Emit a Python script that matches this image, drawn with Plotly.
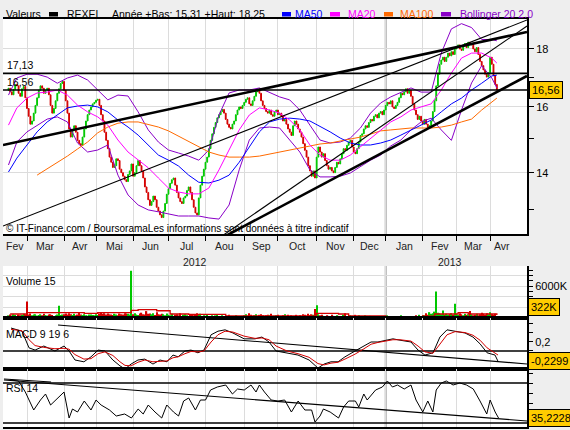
import math
import plotly.graph_objects as go

# ---------------- DATA ----------------
# x = trading-day index, 0 = 1 Mar 2012
START = -11
first_open = 16.55
close = [
    # Feb 2012
    16.62, 16.50, 16.40, 16.58, 16.75, 16.70, 16.45, 16.35, 16.60, 16.68, 16.30,
    # Mar
    15.95, 15.70, 15.45, 15.55, 15.80, 16.05, 16.30, 16.55, 16.70, 16.62, 16.45,
    16.55, 16.62, 16.40, 16.05, 15.80, 15.95, 16.20, 16.45, 16.60, 16.78, 16.85,
    # Apr
    16.55, 16.20, 15.80, 15.30, 15.05, 15.25, 15.40, 15.20, 14.95, 14.85, 14.80,
    15.05, 15.30, 15.55, 15.75, 15.90, 16.00, 16.10, 16.15,
    # May
    16.22, 16.25, 16.05, 15.75, 15.55, 15.20, 14.95, 14.70, 14.45, 14.30, 14.15,
    14.20, 14.40, 14.35, 14.10, 14.00, 13.90, 13.80, 13.75, 13.95, 14.05, 14.25,
    # Jun
    13.90, 14.00, 14.20, 14.35, 14.20, 14.05, 13.85, 13.60, 13.45, 13.25, 13.10,
    13.20, 13.35, 13.25, 13.05, 12.95, 12.85, 12.78, 12.95, 13.15, 13.40,
    # Jul
    13.55, 13.70, 13.80, 13.85, 13.65, 13.45, 13.30, 13.20, 13.15, 13.30, 13.35,
    13.50, 13.60, 13.45, 13.25, 13.05, 12.90, 12.85, 13.30, 13.65, 13.90, 14.10,
    # Aug
    14.30, 14.45, 14.70, 14.95, 15.15, 15.35, 15.50, 15.65, 15.75, 15.85, 15.92,
    15.80, 15.60, 15.45, 15.35, 15.30, 15.45, 15.55, 15.75, 15.90, 16.00, 15.95, 16.05,
    # Sep
    16.15, 16.25, 16.30, 16.10, 16.05, 16.20, 16.35, 16.50, 16.60, 16.45,
    16.20, 16.05, 15.95, 15.85, 15.80, 15.90, 15.75, 15.70, 15.85, 15.90,
    # Oct
    15.75, 15.80, 15.70, 15.55, 15.60, 15.45, 15.30, 15.20, 15.10, 15.40, 15.55,
    15.45, 15.30, 15.20, 15.05, 14.85, 14.65, 14.45, 14.20, 14.05, 13.90, 14.05, 13.85,
    # Nov
    14.45, 14.75, 14.60, 14.45, 14.55, 14.35, 14.20, 14.10, 14.15, 14.05, 14.00,
    14.15, 14.30, 14.25, 14.40, 14.55, 14.70, 14.65, 14.80, 14.90, 14.95, 14.75,
    # Dec
    14.60, 14.55, 14.70, 14.90, 15.10, 15.15, 15.30, 15.40, 15.35, 15.50,
    15.60, 15.55, 15.70, 15.75, 15.65, 15.80, 15.85, 15.75, 15.90,
    # Jan 2013
    16.05, 16.15, 16.10, 16.20, 16.00, 15.95, 16.05, 16.15, 16.30, 16.45, 16.40,
    16.50, 16.60, 16.45, 16.55, 16.35, 16.10, 15.90, 15.75, 15.60, 15.70, 15.55,
    # Feb
    15.45, 15.60, 15.45, 15.35, 15.40, 15.55, 15.85, 16.20, 16.70, 17.10,
    17.45, 17.60, 17.70, 17.55, 17.70, 17.85, 17.75, 17.90, 17.80, 18.00,
    # Mar
    18.05, 18.15, 18.00, 17.95, 18.10, 18.20, 18.05, 18.25, 18.15, 18.20,
    18.00, 17.90, 18.05, 17.80, 17.55, 17.40, 17.25, 17.10, 17.00, 17.15,
    # Apr
    17.70, 17.45, 17.05, 16.75, 16.56,
]

volume_k = [
    500, 650, 450, 700, 550, 350, 650, 500, 550, 800, 650,
    3100, 650, 850, 500, 650, 700, 450, 550, 700, 500, 800, 550, 450, 650, 700, 550, 350, 500, 650, 2300, 550, 650,
    700, 850, 650, 900, 700, 550, 800, 500, 650, 1000, 650, 550, 700, 500, 450, 650, 650, 550, 500,
    700, 550, 850, 1100, 800, 900, 650, 850, 700, 650, 550, 800, 650, 500, 850, 700, 650, 900, 850, 800, 650, 8900,
    700, 900, 650, 550, 850, 1000, 700, 650, 1300, 800, 850, 700, 900, 550, 1100, 700, 650, 800, 700, 500, 850,
    600, 500, 800, 400, 600, 700, 500, 900, 400, 600, 700, 500, 400, 600, 700, 500, 600, 900, 600, 800, 400, 500,
    400, 600, 400, 300, 500, 400, 500, 600, 300, 400, 500, 400, 300, 400, 600, 400, 300, 400, 500, 400, 300, 300, 400,
    500, 700, 400, 900, 600, 400, 500, 700, 400, 600, 700, 500, 400, 500, 600, 500, 800, 400, 400, 500,
    600, 400, 400, 500, 700, 400, 600, 400, 500, 400, 300, 600, 400, 500, 400, 700, 600, 400, 800, 500, 700, 600, 1700,
    2400, 700, 500, 600, 400, 400, 500, 400, 300, 600, 400, 400, 500, 400, 400, 300, 600, 900, 400, 400, 500, 400,
    400, 600, 300, 500, 300, 400, 300, 500, 300, 300, 400, 200, 300, 200, 300, 300, 200, 400, 300,
    300, 500, 300, 400, 300, 200, 400, 300, 300, 500, 300, 400, 300, 300, 200, 300, 400, 300, 500, 400, 600, 400,
    500, 500, 900, 600, 1100, 800, 900, 1200, 5000, 1000, 900, 700, 1400, 600, 800, 600, 700, 900, 600, 2700,
    800, 600, 900, 700, 500, 800, 600, 700, 1300, 700, 500, 600, 800, 500, 700, 1000, 800, 600, 900, 700,
    1100, 700, 600, 800, 322,
]

vol_ma_x = [-10, 0, 18, 34, 42, 61, 62, 66, 77, 85, 96, 118, 146, 171, 172, 185, 191, 213, 235, 242, 256, 262, 279]
vol_ma = [750, 1030, 1030, 890, 1030, 1030, 1440, 1580, 1370, 755, 690, 410, 410, 550, 890, 755, 410, 205, 340, 755, 1030, 755, 550]

ind_x = [-11, -6, 0, 6, 12, 18, 24, 30, 36, 42, 48, 54, 60, 66, 72, 78, 84, 90, 96, 102,
         108, 114, 120, 126, 132, 138, 144, 150, 156, 162, 168, 174, 180, 186, 192, 198,
         204, 210, 216, 222, 228, 234, 240, 246, 252, 258, 264, 270, 276, 279]
ma20 = [15.42, 15.97, 16.29, 16.46, 16.49, 16.56, 16.39, 16.06, 15.84, 15.68, 15.42, 14.96,
        14.60, 14.36, 14.14, 13.85, 13.57, 13.46, 13.41, 13.41, 13.57, 14.08, 14.66, 15.27,
        15.74, 15.97, 15.90, 15.80, 15.58, 15.27, 14.81, 14.51, 14.36, 14.36, 14.51, 14.75,
        15.02, 15.27, 15.52, 15.68, 15.90, 16.00, 16.10, 16.56, 17.14, 17.67, 17.85, 17.85,
        17.67, 17.49]
ma50 = [14.02, 14.42, 14.81, 15.21, 15.52, 15.74, 15.97, 16.03, 16.06, 16.00, 15.84, 15.58,
        15.36, 15.11, 14.81, 14.51, 14.36, 14.19, 13.93, 13.73, 13.71, 13.79, 13.93, 14.30,
        14.75, 15.21, 15.52, 15.61, 15.64, 15.61, 15.55, 15.39, 15.21, 15.02, 14.87, 14.81,
        14.81, 14.87, 14.96, 15.11, 15.27, 15.42, 15.58, 15.84, 16.10, 16.29, 16.56, 16.79,
        17.04, 17.07]
ma100 = [None, None, None, 13.93, 14.11, 14.28, 14.48, 14.69, 14.90, 15.18, 15.36, 15.48,
         15.52, 15.52, 15.45, 15.36, 15.24, 15.08, 14.90, 14.75, 14.60, 14.51, 14.45, 14.45,
         14.45, 14.48, 14.54, 14.60, 14.66, 14.72, 14.78, 14.84, 14.87, 14.93, 14.99, 15.05,
         15.14, 15.24, 15.27, 15.30, 15.33, 15.33, 15.33, 15.36, 15.42, 15.52, 15.61, 15.90,
         16.16, 16.29]
boll_up = [16.39, 16.97, 17.10, 17.10, 17.00, 16.79, 16.97, 17.07, 16.90, 16.56, 16.23, 16.39,
           16.36, 15.84, 15.27, 14.90, 14.66, 14.57, 14.48, 14.36, 14.66, 15.74, 16.46, 16.56,
           16.56, 16.63, 16.49, 16.33, 16.23, 15.90, 15.42, 14.96, 14.87, 14.90, 15.02, 15.33,
           15.80, 16.13, 16.33, 16.49, 16.63, 16.49, 16.49, 17.85, 18.75, 18.95, 18.80, 18.35,
           18.35, 18.30]
boll_dn = [14.22, 14.90, 15.21, 15.42, 15.61, 15.68, 15.52, 14.87, 14.60, 14.66, 14.81, 13.93,
           13.38, 13.11, 12.98, 12.93, 12.87, 12.82, 12.82, 12.82, 12.77, 12.74, 13.11, 14.08,
           14.96, 15.33, 15.36, 15.33, 14.96, 14.60, 14.08, 13.88, 13.88, 13.90, 13.99, 14.17,
           14.36, 14.51, 14.78, 14.96, 15.27, 15.52, 15.64, 15.27, 14.95, 15.90, 16.80, 17.40,
           16.97, 16.63]

macd_x = [-9.5, -3, 1.2, 4.8, 10, 16.6, 22, 25, 28.5, 33.8, 38, 42.2, 46.3, 51, 55.2, 58.2,
          61.8, 65.9, 70, 74.8, 79, 83.1, 86.7, 89.7, 93.8, 97.4, 101.5, 105.1, 109.3, 113.4,
          117.6, 122.3, 128.9, 135.4, 139.5, 143.7, 147.9, 154.4, 160.9, 167.5, 172.8, 176.4,
          180.5, 184.7, 188.8, 194.8, 200.1, 204.3, 208.4, 212.6, 217.3, 221.5, 228, 232.2,
          236.3, 241.1, 245.2, 249.4, 254.2, 260.1, 264.8, 269, 273.2, 277.9, 279.7]
macd = [0.51, 0.44, 0.07, 0.02, 0.11, 0.0, 0.11, 0.0, -0.2, -0.24, -0.13, 0.02, 0.0, -0.2,
        -0.33, -0.4, -0.29, -0.2, -0.18, -0.29, -0.2, -0.24, -0.09, -0.13, 0.0, 0.02, -0.04,
        0.02, 0.36, 0.44, 0.47, 0.4, 0.27, 0.27, 0.31, 0.2, 0.0, -0.04, -0.09, -0.2, -0.38,
        -0.29, -0.24, -0.24, -0.13, 0.0, 0.11, 0.2, 0.2, 0.24, 0.27, 0.24, 0.2, 0.02, -0.09,
        -0.04, 0.31, 0.47, 0.44, 0.4, 0.31, 0.16, -0.04, -0.09, -0.23]
macd_sig = [0.48, 0.45, 0.25, 0.12, 0.08, 0.05, 0.06, 0.04, -0.08, -0.18, -0.17, -0.06, -0.02,
            -0.1, -0.24, -0.32, -0.33, -0.25, -0.2, -0.24, -0.23, -0.22, -0.15, -0.13, -0.06,
            -0.01, -0.02, 0.0, 0.2, 0.36, 0.44, 0.42, 0.33, 0.28, 0.29, 0.25, 0.11, 0.0, -0.06,
            -0.14, -0.28, -0.31, -0.27, -0.25, -0.18, -0.07, 0.05, 0.15, 0.19, 0.22, 0.25, 0.25,
            0.22, 0.11, -0.02, -0.05, 0.15, 0.36, 0.43, 0.41, 0.35, 0.24, 0.07, -0.04, -0.09]

rsi_x = [-10, -5, -1, 4, 8, 11, 14, 18, 22, 25, 27, 30, 34, 38, 41, 44, 49, 53, 58, 62, 66,
         69, 72, 76, 80, 83, 87, 90, 93, 96, 100, 103, 106, 109, 113, 118, 122, 125, 129, 133,
         136, 138, 141, 145, 149, 153, 157, 161, 165, 169, 171, 174, 176, 180, 185, 188, 191,
         195, 197, 200, 202, 207, 211, 214, 217, 220, 224, 228, 231, 235, 238, 241, 243, 246,
         249, 253, 257, 261, 265, 269, 273, 275, 278, 280]
rsi = [73, 72, 61, 43, 53, 59, 48, 55, 61, 35, 44, 41, 52, 43, 53, 48, 43, 37, 39, 35, 44,
       39, 48, 41, 35, 48, 41, 37, 52, 55, 43, 53, 53, 63, 66, 68, 59, 64, 63, 68, 61, 68, 61,
       53, 52, 53, 41, 52, 43, 43, 31, 37, 44, 41, 35, 46, 52, 52, 46, 59, 53, 63, 66, 72, 66,
       68, 64, 68, 53, 41, 52, 41, 63, 70, 72, 68, 70, 68, 64, 52, 39, 53, 41, 35]

levels = [17.13, 16.56]
trend_thick = [[(-14.25, 14.81), (296.9, 18.63)], [(118.8, 12.33), (296.9, 17.04)]]
trend_thin = [[(-14.25, 12.56), (296.9, 19.09)], [(115.8, 12.31), (296.9, 18.86)]]
macd_trend = [(18.4, 0.578), (296.9, -0.289)]
rsi_trend = [[(-13.7, 73), (296.9, 32)], [(-13.7, 74), (14.3, 71)]]

month_starts = [0, 22, 41, 63, 84, 106, 129, 149, 172, 194, 213, 235, 255, 275]
month_names = ['Fev', 'Mar', 'Avr', 'Mai', 'Jun', 'Jul', 'Aou', 'Sep', 'Oct', 'Nov', 'Dec',
               'Jan', 'Fev', 'Mar', 'Avr']
month_label_pos = [-7, 11, 31.5, 52, 73.5, 95, 117.5, 139, 160.5, 183, 203.5, 224, 245, 265, 282]
years = ['2012', '2013']
year_pos = [100, 251]
year_break = 213
X_RANGE = [-14.25, 296.9]

last_close_txt = '16,56'
last_vol_txt = '322K'
last_macd_txt = '-0,2299'
last_rsi_txt = '35,2228'
last_macd = -0.2299
last_rsi = 35.2228

# ---------------- FIGURE ----------------
W, H = 570, 430
ML, MR, MT, MB = 3, 43, 19, 3
PW, PH = W - ML - MR, H - MT - MB


def pxx(px):
    return (px - ML) / PW


def pxy(py):
    return (H - MB - py) / PH


FONT = 'Liberation Sans, Arial, sans-serif'
GREEN = '#00C800'
RED = '#D40000'
BLUE = '#0000FF'
MAG = '#FF00FF'
ORANGE = '#FF6A00'
PURPLE = '#8A00C8'

xs = list(range(START, START + len(close)))
opens = [first_open] + close[:-1]
highs = [max(o, c) for o, c in zip(opens, close)]
lows = [min(o, c) for o, c in zip(opens, close)]
vol_colors = [GREEN if c >= o else RED for o, c in zip(opens, close)]

fig = go.Figure()

# main panel lines
for ys, col in [(boll_up, PURPLE), (boll_dn, PURPLE), (ma100, ORANGE), (ma50, BLUE), (ma20, MAG)]:
    fig.add_trace(go.Scatter(x=ind_x, y=ys, mode='lines', line=dict(color=col, width=1),
                             xaxis='x', yaxis='y', hoverinfo='skip'))

fig.add_trace(go.Candlestick(
    x=xs, open=opens, high=highs, low=lows, close=close,
    increasing=dict(line=dict(color=GREEN, width=1), fillcolor=GREEN),
    decreasing=dict(line=dict(color=RED, width=1), fillcolor=RED),
    whiskerwidth=0, xaxis='x', yaxis='y', hoverinfo='skip'))

for seg in trend_thick:
    fig.add_trace(go.Scatter(x=[seg[0][0], seg[1][0]], y=[seg[0][1], seg[1][1]], mode='lines',
                             line=dict(color='black', width=2.6), xaxis='x', yaxis='y'))
for seg in trend_thin:
    fig.add_trace(go.Scatter(x=[seg[0][0], seg[1][0]], y=[seg[0][1], seg[1][1]], mode='lines',
                             line=dict(color='black', width=1.1), xaxis='x', yaxis='y'))
for lv in levels:
    fig.add_trace(go.Scatter(x=X_RANGE, y=[lv, lv], mode='lines',
                             line=dict(color='black', width=1.6), xaxis='x', yaxis='y'))

# volume
fig.add_trace(go.Bar(x=xs, y=volume_k, marker=dict(color=vol_colors, line=dict(width=0)),
                     width=0.75, xaxis='x2', yaxis='y2', hoverinfo='skip'))
fig.add_trace(go.Scatter(x=vol_ma_x, y=vol_ma, mode='lines', line=dict(color=RED, width=1.3, shape='hv'),
                         xaxis='x2', yaxis='y2'))

# MACD
fig.add_trace(go.Scatter(x=X_RANGE, y=[0, 0], mode='lines', line=dict(color='black', width=1.3),
                         xaxis='x3', yaxis='y3'))
fig.add_trace(go.Scatter(x=[macd_trend[0][0], macd_trend[1][0]], y=[macd_trend[0][1], macd_trend[1][1]],
                         mode='lines', line=dict(color='black', width=1.1), xaxis='x3', yaxis='y3'))
fig.add_trace(go.Scatter(x=macd_x, y=macd, mode='lines', line=dict(color='black', width=1),
                         xaxis='x3', yaxis='y3'))
fig.add_trace(go.Scatter(x=macd_x, y=macd_sig, mode='lines', line=dict(color=RED, width=1),
                         xaxis='x3', yaxis='y3'))

# RSI
for lv in [70, 30]:
    fig.add_trace(go.Scatter(x=X_RANGE, y=[lv, lv], mode='lines', line=dict(color='black', width=1.4),
                             xaxis='x4', yaxis='y4'))
for seg in rsi_trend:
    fig.add_trace(go.Scatter(x=[seg[0][0], seg[1][0]], y=[seg[0][1], seg[1][1]], mode='lines',
                             line=dict(color='black', width=1.1), xaxis='x4', yaxis='y4'))
fig.add_trace(go.Scatter(x=rsi_x, y=rsi, mode='lines', line=dict(color='black', width=1),
                         xaxis='x4', yaxis='y4'))

GRID = '#DCDCDC'


def xax(anchor, mirror, ticks):
    return dict(domain=[0, 1], range=X_RANGE, anchor=anchor, tickmode='array', tickvals=month_starts,
                showticklabels=False, ticks=ticks, ticklen=5, tickcolor='black',
                showgrid=True, gridcolor=GRID, gridwidth=1, zeroline=False,
                showline=True, linecolor='black', linewidth=2, mirror=mirror, fixedrange=True)


main_lo, main_hi = 12.36, 19.13
fig.update_layout(
    width=W, height=H, autosize=False,
    margin=dict(l=ML, r=MR, t=MT, b=MB, pad=0),
    paper_bgcolor='#EEEEEE', plot_bgcolor='white',
    showlegend=False, hovermode=False,
    font=dict(family=FONT, size=11, color='black'),
    xaxis=dict(xax('y', True, 'outside'), rangeslider=dict(visible=False)),
    xaxis2=dict(xax('y2', False, ''), matches='x'),
    xaxis3=dict(xax('y3', True, ''), matches='x'),
    xaxis4=dict(xax('y4', True, ''), matches='x'),
    yaxis=dict(domain=[pxy(234), 1], type='log', range=[math.log10(main_lo), math.log10(main_hi)],
               side='right', anchor='x', tickmode='array', tickvals=[14, 16, 18], ticktext=['14', '16', '18'],
               ticks='outside', ticklen=5, tickcolor='black', tickfont=dict(size=11),
               minor=dict(tickvals=[13, 15, 17], ticks='outside', ticklen=5, tickcolor='black', showgrid=False),
               showgrid=True, gridcolor=GRID, zeroline=False,
               showline=True, linecolor='black', linewidth=2, fixedrange=True),
    yaxis2=dict(domain=[pxy(318), pxy(266)], range=[0, 9800], side='right', anchor='x2',
                tickmode='array', tickvals=[2000, 4000, 6000, 8000], ticktext=['', '', '6000K', ''],
                ticks='outside', ticklen=4, tickcolor='black', tickfont=dict(size=11),
                minor=dict(tickvals=[1000, 3000, 5000, 7000, 9000], ticks='outside', ticklen=4,
                           tickcolor='black', showgrid=False),
                showgrid=True, gridcolor=GRID, zeroline=False,
                showline=True, linecolor='black', linewidth=2, fixedrange=True),
    yaxis3=dict(domain=[pxy(369), pxy(318)], range=[-0.4, 0.733], side='right', anchor='x3',
                tickmode='array', tickvals=[-0.4, -0.2, 0, 0.2, 0.4, 0.6],
                ticktext=['', '', '', '0,2', '', ''],
                ticks='outside', ticklen=4, tickcolor='black', tickfont=dict(size=11),
                showgrid=False, zeroline=False,
                showline=True, linecolor='black', linewidth=2, fixedrange=True),
    yaxis4=dict(domain=[0, pxy(369)], range=[26, 84], side='right', anchor='x4',
                tickmode='array', tickvals=[30, 40, 50, 60, 70, 80], ticktext=['', '', '', '', '', ''],
                ticks='outside', ticklen=4, tickcolor='black',
                showgrid=False, zeroline=False,
                showline=True, linecolor='black', linewidth=2, fixedrange=True),
)

# darker year-break line in every panel
shapes = []
for xr, yr in [('x', 'y domain'), ('x2', 'y2 domain'), ('x3', 'y3 domain'), ('x4', 'y4 domain')]:
    shapes.append(dict(type='line', xref=xr, yref=yr, x0=year_break, x1=year_break, y0=0, y1=1,
                       line=dict(color='#A8A8A8', width=2), layer='below'))

# header legend swatches
for (a, b), col in [((49, 58), 'black'), ((282, 291), BLUE), ((330, 340), MAG),
                    ((384, 393), ORANGE), ((441, 451), PURPLE)]:
    shapes.append(dict(type='rect', xref='paper', yref='paper', x0=pxx(a), x1=pxx(b),
                       y0=pxy(16.5), y1=pxy(12), fillcolor=col, line=dict(width=0)))
fig.update_layout(shapes=shapes)

ann = []
HY = pxy(14)
for px, txt, col in [(4, 'Valeurs', 'black'), (65, 'REXEL', 'black'),
                     (110, 'Année +Bas: 15,31 +Haut: 18,25', 'black'),
                     (293, 'MA50', BLUE), (346, 'MA20', MAG), (398, 'MA100', ORANGE),
                     (458, 'Bollinger 20 2.0', PURPLE)]:
    ann.append(dict(xref='paper', yref='paper', x=pxx(px), y=HY, text=txt, showarrow=False,
                    xanchor='left', yanchor='middle', font=dict(size=10.5, color=col)))

for name, pos in zip(month_names, month_label_pos):
    ann.append(dict(xref='x', yref='paper', x=pos, y=pxy(245.5), text=name, showarrow=False,
                    xanchor='center', yanchor='middle', font=dict(size=10.5, color='#222222')))
for name, pos in zip(years, year_pos):
    ann.append(dict(xref='x', yref='paper', x=pos, y=pxy(262), text=name, showarrow=False,
                    xanchor='center', yanchor='middle', font=dict(size=10.5, color='#222222')))

for lv in levels:
    ann.append(dict(xref='paper', yref='y', x=pxx(5), y=math.log10(lv), text=f'{lv:.2f}'.replace('.', ','),
                    showarrow=False, xanchor='left', yanchor='bottom', yshift=0,
                    font=dict(size=10.5, color='black')))

ann.append(dict(xref='paper', yref='paper', x=pxx(4), y=pxy(228.5),
                text='© IT-Finance.com / BoursoramaLes informations sont données à titre indicatif',
                showarrow=False, xanchor='left', yanchor='middle', font=dict(size=10, color='black')))

for txt, py in [('Volume 15', 281), ('MACD 9 19 6', 334), ('RSI 14', 388)]:
    ann.append(dict(xref='paper', yref='paper', x=pxx(4), y=pxy(py), text=txt, showarrow=False,
                    xanchor='left', yanchor='middle', font=dict(size=10.5, color='black')))

BOX = dict(showarrow=False, xanchor='left', bgcolor='#FFCC00', bordercolor='black', borderwidth=1,
           borderpad=2, font=dict(size=11, color='black'))
ann.append(dict(BOX, xref='paper', yref='y', x=1.0, xshift=2, y=math.log10(close[-1]),
                yanchor='middle', text=last_close_txt))
ann.append(dict(BOX, xref='paper', yref='y2', x=1.0, xshift=1, y=volume_k[-1],
                yanchor='bottom', text=last_vol_txt))
ann.append(dict(BOX, xref='paper', yref='y3', x=1.0, xshift=1, y=last_macd,
                yanchor='middle', text=last_macd_txt))
ann.append(dict(BOX, xref='paper', yref='y4', x=1.0, xshift=1, y=last_rsi,
                yanchor='middle', text=last_rsi_txt))

fig.update_layout(annotations=ann)
fig.write_html('out.html')
